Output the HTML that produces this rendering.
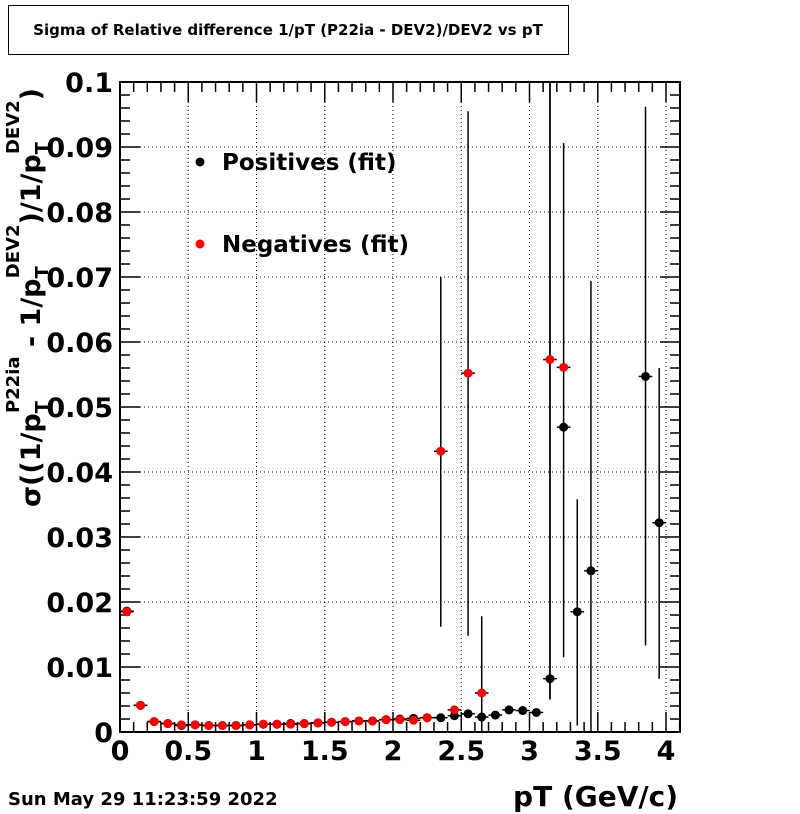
<!DOCTYPE html>
<html><head><meta charset="utf-8"><style>
html,body{margin:0;padding:0;background:#fff;}
svg{display:block;font-family:"DejaVu Sans","Liberation Sans",sans-serif;font-weight:bold;}
</style></head><body>
<svg id="chart" width="800" height="814" viewBox="0 0 800 814" xmlns="http://www.w3.org/2000/svg">
<rect x="0" y="0" width="800" height="814" fill="#fff"/>
<rect x="8.5" y="5.5" width="560" height="49" fill="#fff" stroke="#000" stroke-width="1"/>
<text x="288" y="35" font-size="15" text-anchor="middle">Sigma of Relative difference 1/pT (P22ia - DEV2)/DEV2 vs pT</text>
<g id="grid"></g>
<g id="axes"></g>
<g id="marks"></g>
<g>
<circle cx="200" cy="162" r="4.5" fill="#000"/>
<text x="222" y="170" font-size="23">Positives (fit)</text>
<circle cx="200" cy="244" r="4.5" fill="#f00"/>
<text x="222" y="252" font-size="23">Negatives (fit)</text>
</g>
<text transform="translate(40,507) rotate(-90)" font-size="27">σ((1/p<tspan font-size="18" dy="8">T</tspan><tspan font-size="18" dx="-12" dy="-29">P22ia</tspan><tspan dy="21"> - 1/p</tspan><tspan font-size="18" dy="8">T</tspan><tspan font-size="18" dx="-12" dy="-29">DEV2</tspan><tspan dy="21">)/1/p</tspan><tspan font-size="18" dy="8">T</tspan><tspan font-size="18" dx="-12" dy="-29">DEV2</tspan><tspan dy="21">)</tspan></text>
<text x="678" y="806" font-size="28" text-anchor="end">pT (GeV/c)</text>
<text x="8" y="805" font-size="18">Sun May 29 11:23:59 2022</text>
</svg>
<script>
const categories=[0.05,0.15,0.25,0.35,0.45,0.55,0.65,0.75,0.85,0.95,1.05,1.15,1.25,1.35,1.45,1.55,1.65,1.75,1.85,1.95,2.05,2.15,2.25,2.35,2.45,2.55,2.65,2.75,2.85,2.95,3.05,3.15,3.25,3.35,3.45,3.85,3.95];
const posValues=[0.0186,0.0041,0.0016,0.0013,0.0010,0.0011,0.0010,0.0010,0.0010,0.0011,0.0012,0.0012,0.0013,0.0013,0.0014,0.0015,0.0016,0.0017,0.0017,0.0019,0.0020,0.0021,0.0022,0.0022,0.0025,0.0028,0.0023,0.0026,0.0034,0.0033,0.0030,0.0082,0.0469,0.0185,0.0248,0.0547,0.0322];
const posLo=[null,null,null,null,null,null,null,null,null,null,null,null,null,null,null,null,null,null,null,null,null,null,null,null,null,null,null,null,null,null,null,0.005,0.0115,0.001,0,0.0133,0.0082];
const posHi=[null,null,null,null,null,null,null,null,null,null,null,null,null,null,null,null,null,null,null,null,null,null,null,null,null,null,null,null,null,null,null,0.11,0.0906,0.0358,0.0694,0.0962,0.056];
const negCategories=[0.05,0.15,0.25,0.35,0.45,0.55,0.65,0.75,0.85,0.95,1.05,1.15,1.25,1.35,1.45,1.55,1.65,1.75,1.85,1.95,2.05,2.15,2.25,2.35,2.45,2.55,2.65,3.15,3.25];
const negValues=[0.0185,0.0041,0.0016,0.0013,0.0011,0.0011,0.0010,0.0010,0.0010,0.0011,0.0012,0.0012,0.0012,0.0013,0.0014,0.0015,0.0016,0.0017,0.0017,0.0019,0.0019,0.0018,0.0022,0.0432,0.0034,0.0552,0.0060,0.0573,0.0561];
const negLo=[null,null,null,null,null,null,null,null,null,null,null,null,null,null,null,null,null,null,null,null,null,null,null,0.0162,null,0.0148,0,0.005,null];
const negHi=[null,null,null,null,null,null,null,null,null,null,null,null,null,null,null,null,null,null,null,null,null,null,null,0.070,null,0.0955,0.0178,0.11,null];
const xTickLabels=["0","0.5","1","1.5","2","2.5","3","3.5","4"];
const yTickLabels=["0","0.01","0.02","0.03","0.04","0.05","0.06","0.07","0.08","0.09","0.1"];

const X0=120,X1=680,Y0=732,Y1=82;
const xMax=(X1-X0)/136.5;
function xs(v){return X0+v*136.5;}
function ys(v){return Y0-v*(Y0-Y1)/0.1;}
const NS="http://www.w3.org/2000/svg";
function mk(tag,attrs,parent){const e=document.createElementNS(NS,tag);for(const k in attrs)e.setAttribute(k,attrs[k]);parent.appendChild(e);return e;}
const grid=document.getElementById('grid'),axes=document.getElementById('axes'),marks=document.getElementById('marks');
xTickLabels.forEach((t,i)=>{const v=parseFloat(t);if(v<=0)return;const x=xs(v);
 const l=mk('line',{x1:x,x2:x,y1:Y1,y2:Y0,stroke:'#000','stroke-width':1,'stroke-dasharray':'1,3'},grid);
 
 });
yTickLabels.forEach((t,i)=>{const v=parseFloat(t);if(v<=0||v>=0.1)return;const y=ys(v);
 const l=mk('line',{x1:X0,x2:X1,y1:y,y2:y,stroke:'#000','stroke-width':1,'stroke-dasharray':'1,3'},grid);
 
 });
const fr=mk('rect',{x:X0,y:Y1,width:X1-X0,height:Y0-Y1,fill:'none',stroke:'#000','stroke-width':2},axes);


for(let k=0;k<=50;k++){const v=k*0.002;const y=ys(v);const len=(k%5===0)?20:10;
 mk('line',{x1:X0,x2:X0+len,y1:y,y2:y,stroke:'#000','stroke-width':1.5},axes);
 mk('line',{x1:X1,x2:X1-len,y1:y,y2:y,stroke:'#000','stroke-width':1.5},axes);}
for(let k=0;k*0.1<=xMax;k++){const v=k*0.1;const x=xs(v);const len=(k%5===0)?20:10;
 mk('line',{x1:x,x2:x,y1:Y0,y2:Y0-len,stroke:'#000','stroke-width':1.5},axes);
 mk('line',{x1:x,x2:x,y1:Y1,y2:Y1+len,stroke:'#000','stroke-width':1.5},axes);}
yTickLabels.forEach(t=>{const tx=mk('text',{x:113,y:ys(parseFloat(t))+10,'font-size':27,'text-anchor':'end'},axes);tx.textContent=t;
 
 });
xTickLabels.forEach(t=>{const tx=mk('text',{x:xs(parseFloat(t)),y:760,'font-size':27,'text-anchor':'middle'},axes);tx.textContent=t;
 
 });
function clampY(v){return Math.max(Y1,Math.min(Y0,ys(v)));}
function series(cats,vals,lo,hi,color,name){
 cats.forEach((c,i)=>{const x=xs(c),y=ys(vals[i]);
  const g=mk('g',{},marks);
  
  
  mk('line',{x1:xs(c-0.05),x2:xs(c+0.05),y1:y,y2:y,stroke:'#000','stroke-width':1.5},g);
  if(lo[i]!==null&&hi[i]!==null){mk('line',{x1:x,x2:x,y1:clampY(lo[i]),y2:clampY(hi[i]),stroke:'#000','stroke-width':1.5},g);}
  mk('circle',{cx:x,cy:y,r:4.5,fill:color},g);});}
series(categories,posValues,posLo,posHi,'#000','positives');
series(negCategories,negValues,negLo,negHi,'#f00','negatives');
</script>
</body></html>
